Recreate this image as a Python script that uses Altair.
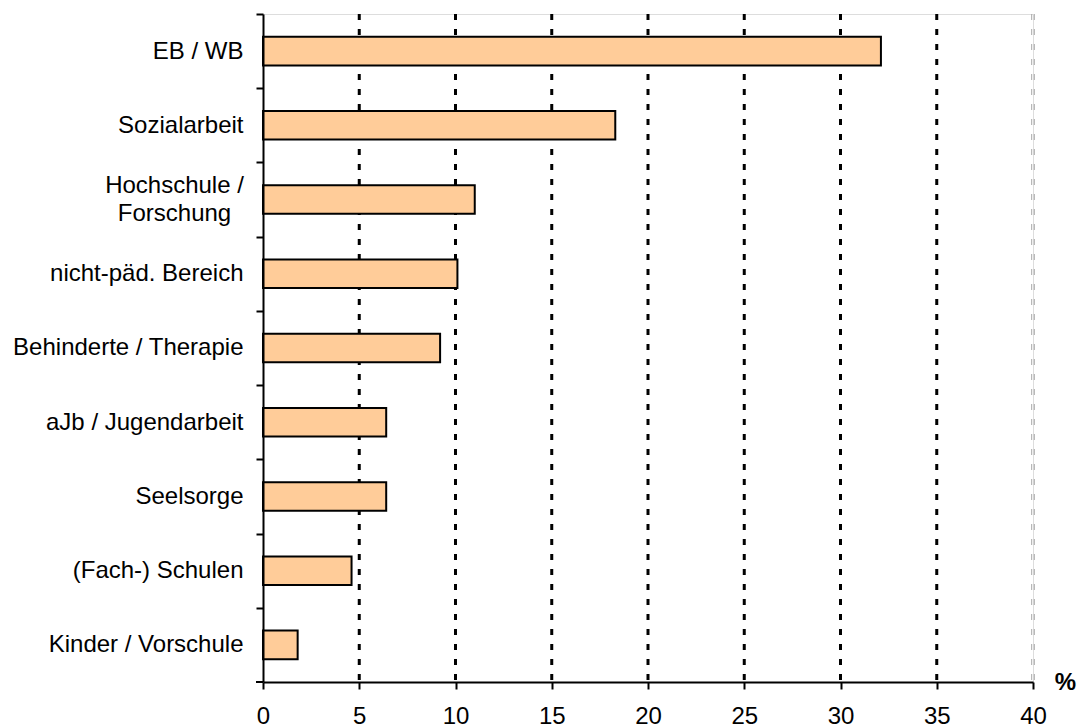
import altair as alt
import pandas as pd

# Fields of activity and their share in percent
categories = [
    "EB / WB",
    "Sozialarbeit",
    "Hochschule / Forschung",
    "nicht-päd. Bereich",
    "Behinderte / Therapie",
    "aJb / Jugendarbeit",
    "Seelsorge",
    "(Fach-) Schulen",
    "Kinder / Vorschule",
]
values = [32.1, 18.3, 11.0, 10.1, 9.2, 6.4, 6.4, 4.6, 1.8]

x_ticks = [0, 5, 10, 15, 20, 25, 30, 35, 40]
grid_values = [5, 10, 15, 20, 25, 30, 35]
edge_values = [40]

FONT = "Liberation Sans"
W, H = 770, 668
STEP = H / len(categories)
TWO_LINE = "Hochschule / Forschung"

bars_df = pd.DataFrame({"field": categories, "pct": values})
grid_df = pd.DataFrame({"v": grid_values})
edge_df = pd.DataFrame({"v": edge_values})

x_scale = alt.Scale(domain=[0, 40], nice=False, zero=True)
y_scale = alt.Scale(domain=categories, paddingInner=0.615, paddingOuter=0.3075)

is_two_line = f"datum.value == '{TWO_LINE}'"
label_expr = f"{is_two_line} ? ['Hochschule /', 'Forschung'] : datum.value"

# dotted vertical gridlines at every 5 %
grid = (
    alt.Chart(grid_df)
    .mark_rule(color="black", strokeWidth=3, strokeDash=[6, 9])
    .encode(x=alt.X("v:Q", scale=x_scale), y=alt.value(0), y2=alt.value(H))
)

# faint double line closing the plot on the right
edge_a = (
    alt.Chart(edge_df)
    .mark_rule(color="#a8a8a8", strokeWidth=1, strokeDash=[6, 9], xOffset=-1.3)
    .encode(x=alt.X("v:Q", scale=x_scale), y=alt.value(0), y2=alt.value(H))
)
edge_b = (
    alt.Chart(edge_df)
    .mark_rule(color="#a8a8a8", strokeWidth=1, strokeDash=[6, 9], xOffset=1.3)
    .encode(x=alt.X("v:Q", scale=x_scale), y=alt.value(0), y2=alt.value(H))
)

# closing tick of the category axis at the bottom boundary
bottom_tick = (
    alt.Chart(edge_df)
    .mark_rule(color="black", strokeWidth=2)
    .encode(x=alt.value(-7), x2=alt.value(0), y=alt.value(H))
)

bars = (
    alt.Chart(bars_df)
    .mark_bar(fill="#FFCC99", stroke="black", strokeWidth=2, cornerRadius=0)
    .encode(
        x=alt.X(
            "pct:Q",
            scale=x_scale,
            axis=alt.Axis(
                values=x_ticks,
                grid=False,
                domainColor="black",
                domainWidth=2,
                tickColor="black",
                tickWidth=2,
                tickSize=7,
                labelFont=FONT,
                labelFontSize=24,
                labelColor="black",
                labelPadding=15,
                labelFlush=False,
                title="%",
                titleFont=FONT,
                titleFontSize=24,
                titleFontWeight="bold",
                titleColor="black",
                titleX=802,
                titleY=0,
                titleAlign="center",
                titleBaseline="middle",
                zindex=1,
            ),
        ),
        y=alt.Y(
            "field:N",
            scale=y_scale,
            sort=categories,
            axis=alt.Axis(
                title=None,
                grid=False,
                tickOffset=-STEP / 2,
                domainColor="black",
                domainWidth=2,
                tickColor="black",
                tickWidth=2,
                tickSize=7,
                labelFont=FONT,
                labelFontSize=24,
                labelColor="black",
                labelPadding={"condition": {"test": is_two_line, "value": 82}, "value": 13},
                labelAlign={"condition": {"test": is_two_line, "value": "center"}, "value": "right"},
                labelOffset={"condition": {"test": is_two_line, "value": 23}, "value": 37.11},
                labelLineHeight=28,
                labelExpr=label_expr,
                labelLimit=400,
                zindex=1,
            ),
        ),
    )
)

chart = (
    alt.layer(grid, edge_a, edge_b, bottom_tick, bars)
    .properties(
        width=W,
        height=H,
        autosize=alt.AutoSizeParams(type="none"),
        padding={"left": 263, "top": 14, "right": 44, "bottom": 46},
    )
    .configure_view(stroke=None)
    .configure(background="white")
)

chart.save("out.html", embed_options={"renderer": "svg", "actions": False})
